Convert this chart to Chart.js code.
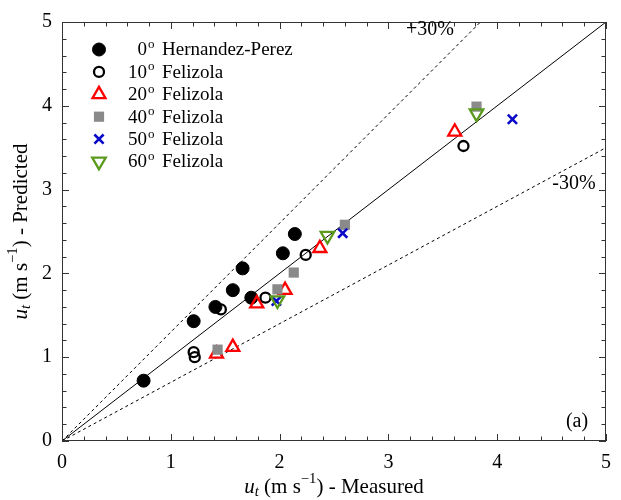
<!DOCTYPE html>
<html>
<head>
<meta charset="utf-8">
<script src="https://cdn.jsdelivr.net/npm/chart.js@4.4.1/dist/chart.umd.min.js"></script>
<style>
  html, body { margin: 0; padding: 0; background: #fff; }
  #wrap { width: 621px; height: 500px; position: relative; }
</style>
</head>
<body>
<div id="wrap"><canvas id="c" width="621" height="500"></canvas></div>
<script>
// ---- data (measured x, predicted y) ----
const xTicks = [0, 1, 2, 3, 4, 5];
const deg0_HP_x  = [0.75, 1.21, 1.41, 1.57, 1.66, 1.74, 2.03, 2.14];
const deg0_HP_y  = [0.72, 1.43, 1.60, 1.80, 2.06, 1.71, 2.24, 2.47];
const deg10_F_x  = [1.21, 1.22, 1.46, 1.87, 2.24, 3.69];
const deg10_F_y  = [1.06, 1.00, 1.57, 1.71, 2.22, 3.52];
const deg20_F_x  = [1.42, 1.57, 1.79, 2.05, 2.37, 3.61];
const deg20_F_y  = [1.04, 1.12, 1.64, 1.80, 2.30, 3.69];
const deg40_F_x  = [1.43, 1.98, 2.13, 2.60, 3.81];
const deg40_F_y  = [1.09, 1.81, 2.01, 2.58, 3.99];
const deg50_F_x  = [1.97, 2.58, 4.14];
const deg50_F_y  = [1.67, 2.48, 3.84];
const deg60_F_x  = [1.98, 2.44, 3.81];
const deg60_F_y  = [1.68, 2.45, 3.91];
const legendNums  = ['0', '10', '20', '40', '50', '60'];
const legendNames = ['Hernandez-Perez', 'Felizola', 'Felizola', 'Felizola', 'Felizola', 'Felizola'];
const lineOneToOne = [[0, 0], [5, 5]];
const linePlus30   = [[0, 0], [5, 6.5]];
const lineMinus30  = [[0, 0], [5, 3.5]];

const SERIF = '"Liberation Serif", "DejaVu Serif", serif';
const pts = (xs, ys) => xs.map((v, i) => ({ x: v, y: ys[i] }));
const pair = (a) => a.map(p => ({ x: p[0], y: p[1] }));

const GREEN = '#5a9a1c', BLUE = '#0a0ac8', GRAY = '#8a8a8a';

const scatterSets = [
  { label: '0° Hernandez-Perez', data: pts(deg0_HP_x, deg0_HP_y), pointStyle: 'circle', pointRadius: 6.5,
    backgroundColor: '#000', borderColor: '#000', borderWidth: 1, order: 6 },
  { label: '10° Felizola', data: pts(deg10_F_x, deg10_F_y), pointStyle: 'circle', pointRadius: 5,
    backgroundColor: 'rgba(0,0,0,0)', borderColor: '#000', borderWidth: 2.3, order: 5 },
  { label: '20° Felizola', data: pts(deg20_F_x, deg20_F_y), pointStyle: 'triangle', pointRadius: 7.5,
    backgroundColor: 'rgba(0,0,0,0)', borderColor: '#ff0000', borderWidth: 2.3, order: 4 },
  { label: '40° Felizola', data: pts(deg40_F_x, deg40_F_y), pointStyle: 'rect', pointRadius: 7.2,
    backgroundColor: GRAY, borderColor: GRAY, borderWidth: 0, order: 3 },
  { label: '50° Felizola', data: pts(deg50_F_x, deg50_F_y), pointStyle: 'crossRot', pointRadius: 6.5,
    backgroundColor: BLUE, borderColor: BLUE, borderWidth: 2.6, order: 2 },
  { label: '60° Felizola', data: pts(deg60_F_x, deg60_F_y), pointStyle: 'triangle', pointRotation: 180, pointRadius: 7.8,
    backgroundColor: 'rgba(0,0,0,0)', borderColor: GREEN, borderWidth: 2.3, order: 1 }
];
scatterSets.forEach(d => { d.type = 'scatter'; d.pointHoverRadius = d.pointRadius; });

const lineSets = [
  { type: 'line', label: '1:1', data: pair(lineOneToOne), borderColor: '#000', borderWidth: 1, pointRadius: 0, order: 10 },
  { type: 'line', label: '+30%', data: pair(linePlus30), borderColor: '#000', borderWidth: 1, borderDash: [3, 3], pointRadius: 0, order: 10 },
  { type: 'line', label: '-30%', data: pair(lineMinus30), borderColor: '#000', borderWidth: 1, borderDash: [3, 3], pointRadius: 0, order: 10 }
];

function measureRich(ctx, parts, size) {
  let w = 0;
  const items = parts.map(p => {
    const fs = p.sub || p.sup ? size * 0.7 : size;
    const font = (p.it ? 'italic ' : '') + fs + 'px ' + SERIF;
    ctx.font = font;
    const mw = ctx.measureText(p.t).width;
    const it = { t: p.t, font, x: w, dy: p.sub ? size * 0.25 : (p.sup ? -size * 0.38 : 0) };
    w += mw;
    return it;
  });
  return { items, w };
}
function renderRich(ctx, parts, size, cx, cy, rot) {
  const r = measureRich(ctx, parts, size);
  ctx.save();
  ctx.translate(cx, cy);
  if (rot) ctx.rotate(rot);
  ctx.fillStyle = '#000';
  ctx.textBaseline = 'middle';
  ctx.textAlign = 'left';
  r.items.forEach(it => { ctx.font = it.font; ctx.fillText(it.t, it.x - r.w / 2, it.dy); });
  ctx.restore();
}

const decor = {
  id: 'decor',
  afterDraw(chart) {
    const ctx = chart.ctx;
    const xs = chart.scales.x, ys = chart.scales.y;
    const a = chart.chartArea;
    ctx.save();
    // box
    ctx.strokeStyle = '#333';
    ctx.lineWidth = 1;
    ctx.strokeRect(a.left + 0.5, a.top + 0.5, a.right - a.left - 1, a.bottom - a.top - 1);
    // ticks (inward, all sides)
    ctx.beginPath();
    for (let k = 0; k <= 25; k++) {
      const v = k * 0.2;
      const major = k % 5 === 0;
      const L = major ? 7 : 4.5;
      const px = Math.round(xs.getPixelForValue(v)) + 0.5;
      ctx.moveTo(px, a.bottom); ctx.lineTo(px, a.bottom - L);
      ctx.moveTo(px, a.top); ctx.lineTo(px, a.top + L);
      const py = Math.round(ys.getPixelForValue(v)) + 0.5;
      ctx.moveTo(a.left, py); ctx.lineTo(a.left + L, py);
      ctx.moveTo(a.right, py); ctx.lineTo(a.right - L, py);
    }
    ctx.stroke();

    // annotations
    ctx.fillStyle = '#000';
    ctx.font = '20px ' + SERIF;
    ctx.textAlign = 'center';
    ctx.textBaseline = 'middle';
    ctx.fillText('+30%', 430, 30);
    ctx.fillText('-30%', 574, 184);
    ctx.fillText('(a)', 577, 422);

    // axis titles
    renderRich(ctx, [{ t: 'u', it: true }, { t: 't', it: true, sub: true }, { t: ' (m s' }, { t: '−1', sup: true }, { t: ') - Measured' }],
      21, (a.left + a.right) / 2, 487, 0);
    renderRich(ctx, [{ t: 'u', it: true }, { t: 't', it: true, sub: true }, { t: ' (m s' }, { t: '−1', sup: true }, { t: ') - Predicted' }],
      21, 21, (a.top + a.bottom) / 2, -Math.PI / 2);

    // legend
    const rowY0 = 49.5, rowDY = 22.4, mx = 99;
    scatterSets.forEach((d, i) => {
      const y = rowY0 + i * rowDY;
      ctx.save();
      ctx.fillStyle = d.backgroundColor;
      ctx.strokeStyle = d.borderColor;
      ctx.lineWidth = d.borderWidth;
      Chart.helpers.drawPoint(ctx, {
        pointStyle: d.pointStyle, radius: d.pointRadius, rotation: d.pointRotation || 0, borderWidth: d.borderWidth
      }, mx, y);
      ctx.restore();
      ctx.fillStyle = '#000';
      ctx.textBaseline = 'middle';
      ctx.font = '19px ' + SERIF;
      ctx.textAlign = 'right';
      ctx.fillText(legendNums[i], 147, y + 1);
      ctx.font = '13px ' + SERIF;
      ctx.textAlign = 'left';
      ctx.fillText('o', 148, y - 5);
      ctx.font = '19px ' + SERIF;
      ctx.fillText(legendNames[i], 162, y + 1);
    });
    ctx.restore();
  }
};

new Chart(document.getElementById('c'), {
  data: { datasets: [...lineSets, ...scatterSets] },
  options: {
    responsive: false,
    animation: false,
    events: [],
    layout: { padding: { top: 13, right: 15, left: 0, bottom: 0 } },
    plugins: { legend: { display: false }, tooltip: { enabled: false } },
    scales: {
      x: {
        type: 'linear', min: 0, max: 5,
        afterFit: s => { s.height = 59; },
        afterBuildTicks: s => { s.ticks = xTicks.map(v => ({ value: v })); },
        ticks: { font: { family: SERIF, size: 20 }, color: '#000', padding: 10, maxRotation: 0 },
        grid: { display: false, drawTicks: false },
        border: { display: false }
      },
      y: {
        type: 'linear', min: 0, max: 5,
        afterFit: s => { s.width = 62; },
        afterBuildTicks: s => { s.ticks = xTicks.map(v => ({ value: v })); },
        ticks: { font: { family: SERIF, size: 20 }, color: '#000', padding: 10 },
        grid: { display: false, drawTicks: false },
        border: { display: false }
      }
    }
  },
  plugins: [decor]
});
</script>
</body>
</html>
